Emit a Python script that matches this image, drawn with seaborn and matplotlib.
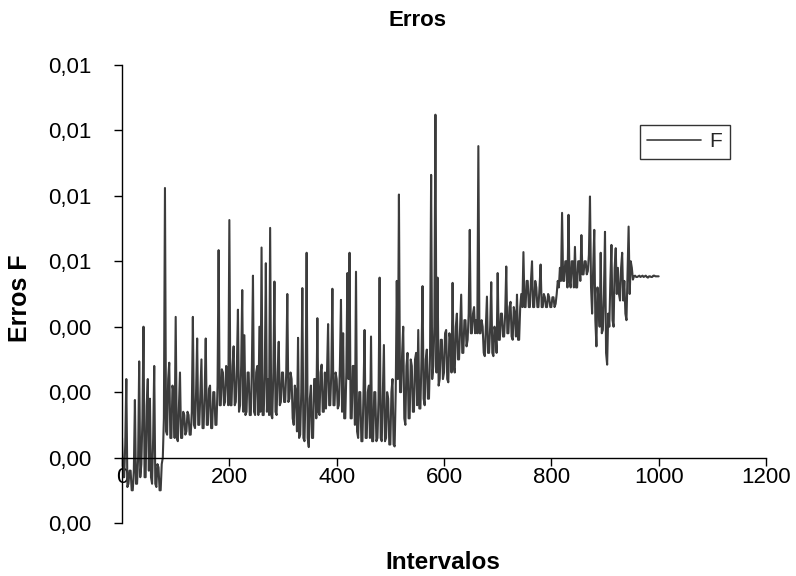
import matplotlib
matplotlib.use("Agg")
import matplotlib.pyplot as plt
import numpy as np
import pandas as pd
import seaborn as sns
from matplotlib.ticker import FixedLocator, FixedFormatter

# ---- data ----
intervalos = list(range(0, 1001, 2))
erros_f = [
    0.00130, 0.00070, 0.00070, 0.00120, 0.00220, 0.00055, 0.00060, 0.00080, 0.00080, 0.00050,
    0.00050, 0.00080, 0.00188, 0.00060, 0.00060, 0.00100, 0.00247, 0.00070, 0.00090, 0.00160,
    0.00300, 0.00070, 0.00070, 0.00180, 0.00220, 0.00080, 0.00190, 0.00070, 0.00060, 0.00130,
    0.00240, 0.00060, 0.00055, 0.00090, 0.00085, 0.00050, 0.00050, 0.00090, 0.00100, 0.00160,
    0.00512, 0.00140, 0.00135, 0.00220, 0.00245, 0.00130, 0.00130, 0.00210, 0.00200, 0.00130,
    0.00315, 0.00130, 0.00125, 0.00180, 0.00230, 0.00130, 0.00130, 0.00170, 0.00165, 0.00135,
    0.00140, 0.00170, 0.00165, 0.00135, 0.00135, 0.00170, 0.00315, 0.00150, 0.00145, 0.00200,
    0.00282, 0.00150, 0.00150, 0.00200, 0.00250, 0.00145, 0.00145, 0.00200, 0.00282, 0.00150,
    0.00150, 0.00205, 0.00210, 0.00145, 0.00145, 0.00200, 0.00200, 0.00150, 0.00150, 0.00210,
    0.00417, 0.00180, 0.00180, 0.00235, 0.00230, 0.00180, 0.00185, 0.00240, 0.00230, 0.00180,
    0.00463, 0.00180, 0.00180, 0.00240, 0.00270, 0.00180, 0.00185, 0.00240, 0.00326, 0.00170,
    0.00180, 0.00240, 0.00356, 0.00170, 0.00287, 0.00165, 0.00170, 0.00230, 0.00230, 0.00165,
    0.00165, 0.00240, 0.00378, 0.00170, 0.00165, 0.00230, 0.00240, 0.00165, 0.00300, 0.00170,
    0.00421, 0.00165, 0.00165, 0.00230, 0.00397, 0.00170, 0.00220, 0.00165, 0.00451, 0.00165,
    0.00160, 0.00230, 0.00369, 0.00170, 0.00165, 0.00230, 0.00277, 0.00180, 0.00185, 0.00230,
    0.00230, 0.00185, 0.00185, 0.00230, 0.00350, 0.00185, 0.00190, 0.00230, 0.00220, 0.00160,
    0.00150, 0.00210, 0.00200, 0.00140, 0.00283, 0.00130, 0.00135, 0.00200, 0.00359, 0.00130,
    0.00125, 0.00200, 0.00413, 0.00130, 0.00116, 0.00190, 0.00210, 0.00130, 0.00130, 0.00220,
    0.00220, 0.00160, 0.00313, 0.00170, 0.00165, 0.00230, 0.00242, 0.00170, 0.00170, 0.00230,
    0.00175, 0.00230, 0.00304, 0.00180, 0.00180, 0.00230, 0.00358, 0.00180, 0.00180, 0.00230,
    0.00220, 0.00175, 0.00180, 0.00240, 0.00341, 0.00170, 0.00290, 0.00160, 0.00160, 0.00230,
    0.00382, 0.00220, 0.00413, 0.00160, 0.00160, 0.00240, 0.00240, 0.00150, 0.00384, 0.00140,
    0.00130, 0.00200, 0.00200, 0.00125, 0.00125, 0.00200, 0.00295, 0.00130, 0.00130, 0.00200,
    0.00210, 0.00130, 0.00285, 0.00125, 0.00125, 0.00200, 0.00200, 0.00125, 0.00130, 0.00190,
    0.00375, 0.00130, 0.00125, 0.00200, 0.00272, 0.00125, 0.00130, 0.00200, 0.00190, 0.00120,
    0.00120, 0.00200, 0.00220, 0.00120, 0.00117, 0.00200, 0.00370, 0.00220, 0.00502, 0.00200,
    0.00200, 0.00260, 0.00300, 0.00160, 0.00150, 0.00240, 0.00260, 0.00160, 0.00160, 0.00250,
    0.00240, 0.00170, 0.00170, 0.00250, 0.00260, 0.00180, 0.00295, 0.00175, 0.00175, 0.00250,
    0.00362, 0.00190, 0.00180, 0.00250, 0.00265, 0.00190, 0.00190, 0.00260, 0.00532, 0.00220,
    0.00240, 0.00300, 0.00624, 0.00230, 0.00375, 0.00210, 0.00220, 0.00280, 0.00280, 0.00220,
    0.00230, 0.00290, 0.00295, 0.00220, 0.00215, 0.00290, 0.00280, 0.00230, 0.00367, 0.00240,
    0.00230, 0.00300, 0.00320, 0.00250, 0.00250, 0.00300, 0.00349, 0.00260, 0.00260, 0.00310,
    0.00310, 0.00270, 0.00280, 0.00320, 0.00448, 0.00290, 0.00290, 0.00320, 0.00330, 0.00290,
    0.00310, 0.00290, 0.00576, 0.00290, 0.00290, 0.00310, 0.00300, 0.00260, 0.00255, 0.00300,
    0.00346, 0.00260, 0.00260, 0.00300, 0.00368, 0.00260, 0.00255, 0.00300, 0.00290, 0.00260,
    0.00382, 0.00280, 0.00280, 0.00320, 0.00320, 0.00285, 0.00285, 0.00320, 0.00392, 0.00290,
    0.00290, 0.00330, 0.00338, 0.00285, 0.00280, 0.00330, 0.00320, 0.00285, 0.00349, 0.00280,
    0.00280, 0.00330, 0.00350, 0.00330, 0.00414, 0.00330, 0.00330, 0.00370, 0.00370, 0.00330,
    0.00330, 0.00370, 0.00400, 0.00330, 0.00330, 0.00370, 0.00360, 0.00330, 0.00330, 0.00360,
    0.00395, 0.00330, 0.00330, 0.00350, 0.00345, 0.00330, 0.00330, 0.00350, 0.00345, 0.00330,
    0.00330, 0.00345, 0.00345, 0.00330, 0.00335, 0.00350, 0.00370, 0.00360, 0.00390, 0.00370,
    0.00474, 0.00370, 0.00370, 0.00400, 0.00400, 0.00360, 0.00471, 0.00370, 0.00360, 0.00400,
    0.00400, 0.00360, 0.00422, 0.00360, 0.00360, 0.00400, 0.00400, 0.00370, 0.00440, 0.00380,
    0.00380, 0.00400, 0.00400, 0.00380, 0.00385, 0.00410, 0.00499, 0.00360, 0.00320, 0.00390,
    0.00448, 0.00310, 0.00270, 0.00360, 0.00340, 0.00300, 0.00413, 0.00290, 0.00295, 0.00350,
    0.00445, 0.00260, 0.00242, 0.00320, 0.00300, 0.00370, 0.00425, 0.00310, 0.00300, 0.00390,
    0.00420, 0.00350, 0.00390, 0.00350, 0.00340, 0.00390, 0.00413, 0.00340, 0.00370, 0.00320,
    0.00310, 0.00380, 0.00453, 0.00350, 0.00400, 0.00390, 0.00372, 0.00377, 0.00378, 0.00376,
    0.00376, 0.00377, 0.00378, 0.00376, 0.00377, 0.00378, 0.00376, 0.00377, 0.00378, 0.00376,
    0.00375, 0.00377, 0.00377, 0.00376, 0.00376, 0.00378, 0.00378, 0.00377, 0.00377, 0.00377,
    0.00377,
]
y_ticks = [0.000, 0.001, 0.002, 0.003, 0.004, 0.005, 0.006, 0.007]
y_labels = ["0,00", "0,00", "0,00", "0,00", "0,01", "0,01", "0,01", "0,01"]
x_ticks = [0, 200, 400, 600, 800, 1000, 1200]
x_labels = ["0", "200", "400", "600", "800", "1000", "1200"]

sns.set_theme(style="white")
plt.rcParams["font.family"] = ["Liberation Sans", "DejaVu Sans"]

fig = plt.figure(figsize=(7.96, 5.76), dpi=100)
ax = fig.add_axes([0.1533, 0.092, 0.8090, 0.7952])

df = pd.DataFrame({"Intervalos": intervalos, "F": erros_f})
sns.lineplot(data=df, x="Intervalos", y="F", ax=ax, color="#3c3c3c",
             linewidth=1.5, label="F")

ax.set_xlim(0, 1200)
ax.set_ylim(0, 0.007)
ax.xaxis.set_major_locator(FixedLocator(x_ticks))
ax.xaxis.set_major_formatter(FixedFormatter(x_labels))
ax.yaxis.set_major_locator(FixedLocator(y_ticks))
ax.yaxis.set_major_formatter(FixedFormatter(y_labels))
ax.set_xlabel("")
ax.set_ylabel("")
ax.grid(False)

for s in ["top", "right"]:
    ax.spines[s].set_visible(False)
for s in ["left", "bottom"]:
    ax.spines[s].set_color("black")
    ax.spines[s].set_linewidth(1.0)
ax.spines["bottom"].set_position(("data", 0.001))

ax.tick_params(axis="x", bottom=True, direction="out", length=6, width=1,
               color="black", labelsize=16, pad=1, labelcolor="black")
ax.tick_params(axis="y", left=True, direction="out", length=6, width=1,
               color="black", labelsize=16, pad=16, labelcolor="black")

fig.text(0.525, 0.965, "Erros", ha="center", va="center",
         fontsize=16, fontweight="bold", color="black")
fig.text(0.556, 0.024, "Intervalos", ha="center", va="center",
         fontsize=17.5, fontweight="bold", color="black")
fig.text(0.025, 0.483, "Erros F", ha="center", va="center", rotation=90,
         fontsize=18, fontweight="bold", color="black")

leg = ax.legend(loc="upper left", bbox_to_anchor=(0.804, 0.869), frameon=True,
                fancybox=False, fontsize=15, handlelength=2.6,
                borderpad=0.35, handletextpad=0.4, borderaxespad=0)
leg.get_frame().set_edgecolor("black")
leg.get_frame().set_linewidth(1.0)
for line in leg.get_lines():
    line.set_linewidth(1.2)

fig.savefig("out.png", dpi=100, facecolor="white")
